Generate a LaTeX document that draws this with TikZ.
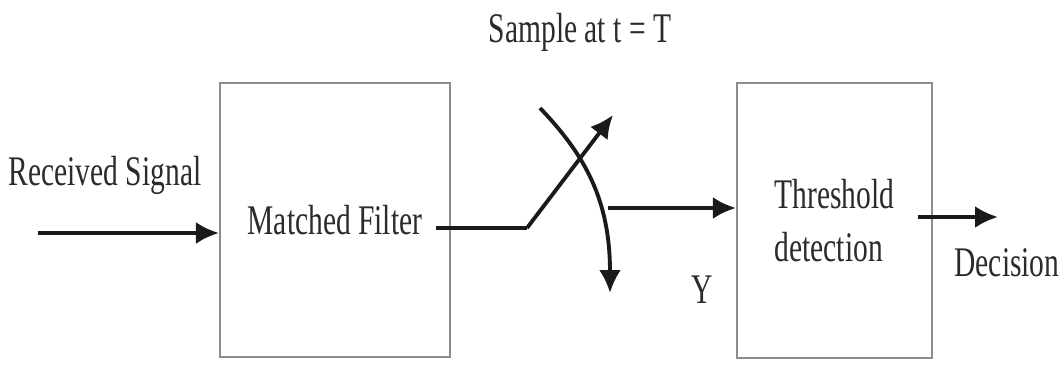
\documentclass[tikz,border=0pt]{standalone}
\usepackage{fontspec}
\setmainfont{Liberation Serif}[FakeStretch=0.7]
\usepackage{xcolor}
\usetikzlibrary{arrows.meta, positioning}
\definecolor{ink}{HTML}{2B2B2B}
\definecolor{boxbd}{HTML}{8C8C8C}
\definecolor{wire}{HTML}{1A1A1A}
\tikzset{
  block/.style={rectangle, draw=boxbd, line width=1.2pt, fill=white,
                align=left, text=ink, inner sep=0pt,
                font=\fontsize{24}{30}\selectfont},
  lbl/.style={text=ink, inner sep=0pt, font=\fontsize{24}{30}\selectfont},
  arrow/.style={-{Latex[length=4.6mm, width=4.4mm]}, line width=2.2pt, draw=wire},
  wireline/.style={line width=2.2pt, draw=wire, line join=round},
}

\begin{document}
\begin{tikzpicture}[x=0.02cm, y=-0.02cm]
  \useasboundingbox (0,0) rectangle (1062,365);

  % ---- the two blocks ----
  \node[block, minimum width=4.6cm, minimum height=5.48cm] (mf) at (335,220)
    {Matched Filter};
  \node[block, minimum width=3.9cm, minimum height=5.5cm] (td) at (834.5,220.5)
    {Threshold\\detection};

  % ---- labels ----
  \node[lbl] (rx) at (105,175) {Received Signal};
  \node[lbl] (samp) at (580,32) {Sample at t = T};
  \node[lbl] (y) at (702,290) {Y};
  \node[lbl] (dec) at (1007,263) {Decision};

  % ---- switch points ----
  \coordinate (in) at (38,233);
  \coordinate (pivot) at (527,228);
  \coordinate (swtip) at (613,115);
  \coordinate (arcstart) at (540,108);
  \coordinate (arctip) at (610,293);
  \coordinate (tap) at (608,208);
  \coordinate (out) at (998,217);

  \draw[arrow] (in) -- (in -| mf.west);
  \draw[wireline] ([xshift=-0.3cm]mf.east |- pivot) -- (pivot);
  \draw[arrow] (pivot) -- (swtip);
  \draw[arrow] (arcstart) .. controls (585,155) and (610,200) .. (arctip);
  \draw[arrow] (tap) -- (tap -| td.west);
  \draw[arrow] ([xshift=-0.3cm]td.east |- out) -- (out);
\end{tikzpicture}
\end{document}
